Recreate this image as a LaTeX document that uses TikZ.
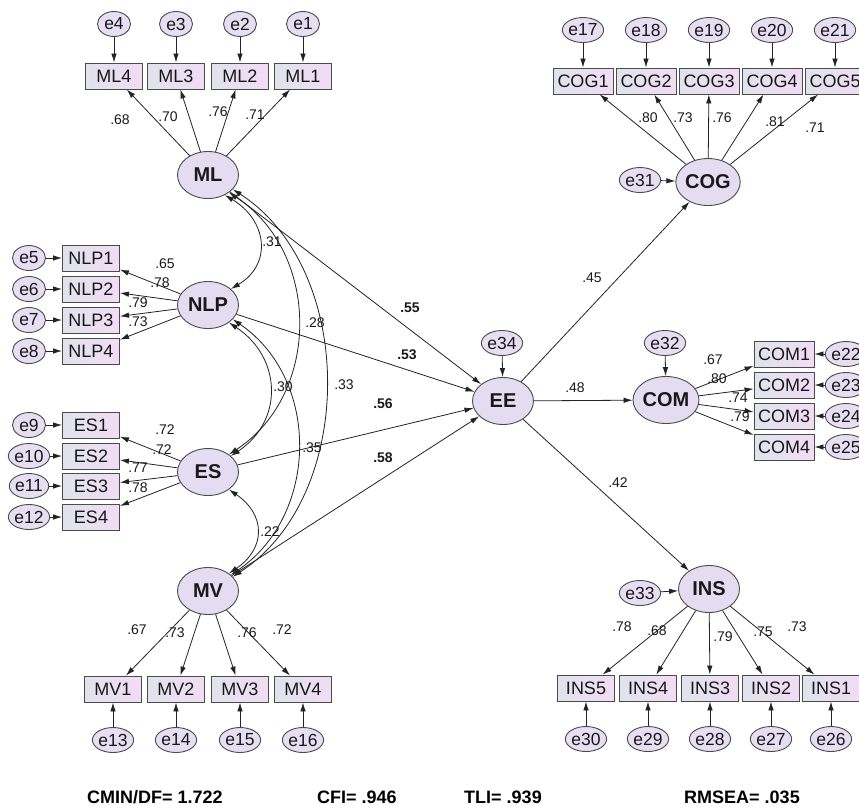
\documentclass[tikz,border=0pt]{standalone}
\usepackage{fontspec}
\setmainfont{Liberation Sans}
\usetikzlibrary{shapes.geometric,arrows.meta}
\definecolor{latfill}{RGB}{229,220,242}
\definecolor{errfill}{RGB}{232,222,243}
\definecolor{boxL}{RGB}{224,227,236}
\definecolor{boxR}{RGB}{242,220,245}
\definecolor{bord}{RGB}{75,75,75}
\definecolor{lnc}{RGB}{35,35,35}
\definecolor{txt}{RGB}{25,25,25}
\newcommand\latfont{\fontsize{20}{20}\selectfont\bfseries}
\newcommand\errfont{\fontsize{17.5}{17.5}\selectfont}
\newcommand\indfont{\fontsize{18}{18}\selectfont}
\newcommand\labfont{\fontsize{14}{14}\selectfont}
\newcommand\blabfont{\fontsize{14}{14}\selectfont\bfseries}
\newcommand\fitfont{\fontsize{18}{18}\selectfont\bfseries}
\tikzset{
  lat/.style={ellipse, draw=bord, line width=0.9pt, fill=latfill, minimum width=61pt, minimum height=47pt, inner sep=0pt, font=\latfont, text=txt},
  err/.style={ellipse, draw=bord, line width=0.9pt, fill=errfill, minimum width=33pt, minimum height=25pt, inner sep=0pt, font=\errfont, text=txt},
  ind/.style={rectangle, draw=bord, line width=0.9pt, left color=boxL, right color=boxR, minimum width=57pt, minimum height=26pt, inner sep=0pt, font=\indfont, text=txt},
  indw/.style={ind, minimum width=60pt},
  arr/.style={draw=lnc, line width=0.8pt, -{Latex[length=9pt,width=5.5pt]}},
  corr/.style={draw=lnc, line width=0.8pt, {Latex[length=9pt,width=5.5pt]}-{Latex[length=9pt,width=5.5pt]}},
  lab/.style={font=\labfont, inner sep=0pt, text=txt},
  blab/.style={font=\blabfont, inner sep=0pt, text=txt},
  fitlab/.style={font=\fitfont, inner sep=0pt, text=black},
}
\begin{document}
\begin{tikzpicture}[x=1pt,y=-1pt]
\useasboundingbox (0,0) rectangle (859,807);
\fill[white] (0,0) rectangle (859,807);

% latent variables
\node[lat] (ML) at (208,175) {ML};
\node[lat] (NLP) at (208,305) {NLP};
\node[lat] (ES) at (208,472) {ES};
\node[lat] (MV) at (208,591) {MV};
\node[lat] (EE) at (503,401) {EE};
\node[lat] (COG) at (708,182) {COG};
\node[lat] (COM) at (666,400) {COM};
\node[lat] (INS) at (709,589) {INS};

% ML
\foreach \n/\x in {4/114,3/176,2/240,1/303} {
  \node[ind] (ML\n) at (\x,76) {ML\n};
  \node[err] (e\n) at (\x,24) {e\n};
  \draw[arr] (e\n) -- (ML\n);
  \draw[arr] (ML) -- (ML\n);
}
% NLP
\foreach \n/\e/\y in {1/5/258,2/6/289,3/7/320,4/8/351} {
  \node[ind] (NLP\n) at (91,\y) {NLP\n};
  \node[err] (e\e) at (29,\y) {e\e};
  \draw[arr] (e\e) -- (NLP\n);
  \draw[arr] (NLP) -- (NLP\n);
}
% ES
\foreach \n/\e/\y in {1/9/425,2/10/456,3/11/486,4/12/517} {
  \node[ind] (ES\n) at (91,\y) {ES\n};
  \node[err] (e\e) at (29,\y) {e\e};
  \draw[arr] (e\e) -- (ES\n);
  \draw[arr] (ES) -- (ES\n);
}
% MV
\foreach \n/\e/\x in {1/13/113,2/14/176,3/15/240,4/16/303} {
  \node[ind] (MV\n) at (\x,689) {MV\n};
  \node[err] (e\e) at (\x,740) {e\e};
  \draw[arr] (e\e) -- (MV\n);
  \draw[arr] (MV) -- (MV\n);
}
% COG
\foreach \n/\e/\x in {1/17/583,2/18/646,3/19/709,4/20/772,5/21/835} {
  \node[indw] (COG\n) at (\x,81) {COG\n};
  \node[err] (e\e) at (\x,30) {e\e};
  \draw[arr] (e\e) -- (COG\n);
  \draw[arr] (COG) -- (COG\n);
}
% COM
\foreach \n/\e/\y in {1/22/354,2/23/385,3/24/416,4/25/447} {
  \node[indw] (COM\n) at (784,\y) {COM\n};
  \node[err] (e\e) at (846,\y) {e\e};
  \draw[arr] (e\e) -- (COM\n);
  \draw[arr] (COM) -- (COM\n);
}
% INS
\foreach \n/\e/\x in {5/30/586,4/29/648,3/28/710,2/27/771,1/26/831} {
  \node[ind] (INS\n) at (\x,688) {INS\n};
  \node[err] (e\e) at (\x,739) {e\e};
  \draw[arr] (e\e) -- (INS\n);
  \draw[arr] (INS) -- (INS\n);
}

% structural residuals
\node[err] (e34) at (502,343) {e34};
\node[err] (e31) at (640,180) {e31};
\node[err] (e32) at (665,343) {e32};
\node[err] (e33) at (640,593) {e33};
\draw[arr] (e34) -- (EE);
\draw[arr] (e31) -- (COG);
\draw[arr] (e32) -- (COM);
\draw[arr] (e33) -- (INS);

% structural paths
\draw[arr] (ML) -- (EE);
\draw[arr] (NLP) -- (EE);
\draw[arr] (ES) -- (EE);
\draw[arr] (MV) -- (EE);
\draw[arr] (EE) -- (COG);
\draw[arr] (EE) -- (COM);
\draw[arr] (EE) -- (INS);

% correlations
\draw[corr] (ML.-50) .. controls +(42,25) and +(42,-25) .. (NLP.35);
\draw[corr] (ML.-40) .. controls +(92,60) and +(92,-60) .. (ES.40);
\draw[corr] (ML.-30) .. controls +(124,80) and +(124,-80) .. (MV.30);
\draw[corr] (NLP.-40) .. controls +(53,35) and +(53,-35) .. (ES.35);
\draw[corr] (NLP.-30) .. controls +(88,60) and +(88,-60) .. (MV.35);
\draw[corr] (ES.-40) .. controls +(37,25) and +(37,-25) .. (MV.40);

% labels
\node[lab] (l1) at (120,120) {.68};
\node[lab] (l2) at (168,117) {.70};
\node[lab] (l3) at (218,112) {.76};
\node[lab] (l4) at (255,115) {.71};
\node[lab] (l5) at (165,264) {.65};
\node[lab] (l6) at (160,283) {.78};
\node[lab] (l7) at (138,303) {.79};
\node[lab] (l8) at (138,322) {.73};
\node[lab] (l9) at (165,430) {.72};
\node[lab] (l10) at (162,450) {.72};
\node[lab] (l11) at (138,468) {.77};
\node[lab] (l12) at (138,488) {.78};
\node[lab] (l13) at (137,630) {.67};
\node[lab] (l14) at (175,633) {.73};
\node[lab] (l15) at (247,633) {.76};
\node[lab] (l16) at (282,630) {.72};
\node[lab] (c1) at (272,242) {.31};
\node[lab] (c2) at (315,323) {.28};
\node[lab] (c3) at (283,387) {.30};
\node[lab] (c4) at (344,385) {.33};
\node[lab] (c5) at (312,448) {.35};
\node[lab] (c6) at (270,532) {.22};
\node[blab] (p1) at (410,308) {.55};
\node[blab] (p2) at (407,355) {.53};
\node[blab] (p3) at (383,404) {.56};
\node[blab] (p4) at (383,458) {.58};
\node[lab] (g1) at (648,118) {.80};
\node[lab] (g2) at (683,118) {.73};
\node[lab] (g3) at (722,118) {.76};
\node[lab] (g4) at (775,122) {.81};
\node[lab] (g5) at (815,128) {.71};
\node[lab] (s1) at (592,278) {.45};
\node[lab] (s2) at (575,388) {.48};
\node[lab] (s3) at (618,483) {.42};
\node[lab] (m1) at (713,360) {.67};
\node[lab] (m2) at (717,379) {.80};
\node[lab] (m3) at (738,398) {.74};
\node[lab] (m4) at (740,417) {.79};
\node[lab] (i1) at (622,627) {.78};
\node[lab] (i2) at (657,631) {.68};
\node[lab] (i3) at (723,637) {.79};
\node[lab] (i4) at (763,632) {.75};
\node[lab] (i5) at (797,627) {.73};

% fit indices
\node[fitlab] (f1) at (155,797) {CMIN/DF= 1.722};
\node[fitlab] (f2) at (357,797) {CFI= .946};
\node[fitlab] (f3) at (503,797) {TLI= .939};
\node[fitlab] (f4) at (742,797) {RMSEA= .035};
\end{tikzpicture}
\end{document}
